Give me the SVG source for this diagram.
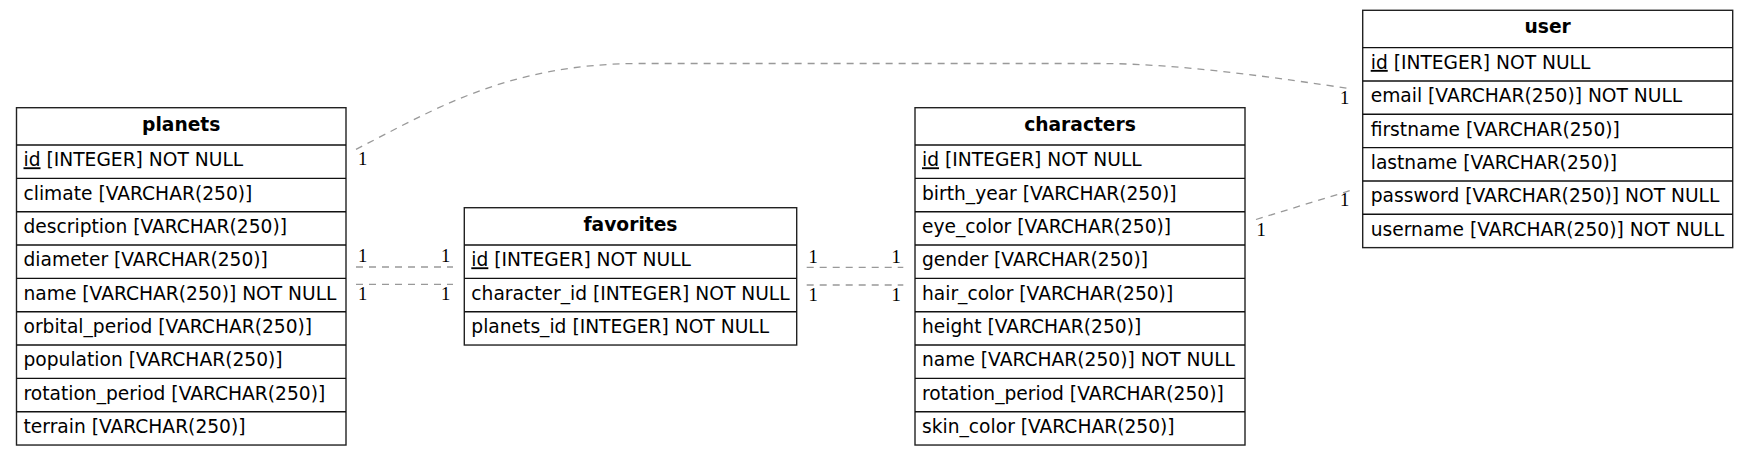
<svg xmlns="http://www.w3.org/2000/svg" width="1748" height="455" viewBox="0 0 1748 455">
<style>
.box{fill:#fff;stroke:#222;stroke-width:1.4}
.sep{stroke:#111;stroke-width:1.4}
.hd{font-family:"DejaVu Sans",sans-serif;font-size:18.67px;font-weight:bold;text-anchor:middle;fill:#000}
.fd{font-family:"DejaVu Sans",sans-serif;font-size:18.67px;fill:#000}
.pk{text-decoration:underline}
.edge{fill:none;stroke:#999;stroke-width:1.3;stroke-dasharray:7,6}
.card{font-family:"Liberation Serif","Times New Roman",serif;font-size:18.67px;fill:#000}
</style>
<rect width="1748" height="455" fill="#fff"/>
<g id="connectors">
<path class="edge" d="M356,149.3 C430,112 506,63.5 640,63.5 L1100,63.5 C1180,63.5 1282,78.5 1352,89"/>
<text class="card" x="358" y="165">1</text>
<text class="card" x="1340" y="104">1</text>
<path class="edge" d="M356,267 L453,267"/>
<text class="card" x="358" y="262">1</text>
<text class="card" x="441" y="262">1</text>
<path class="edge" d="M356,284.3 L453,284.3"/>
<text class="card" x="358" y="300">1</text>
<text class="card" x="441" y="300">1</text>
<path class="edge" d="M806.7,267.3 L903.3,267.3"/>
<text class="card" x="808.5" y="263">1</text>
<text class="card" x="891.5" y="263">1</text>
<path class="edge" d="M806.7,285 L903.3,285"/>
<text class="card" x="808.5" y="301">1</text>
<text class="card" x="891.5" y="301">1</text>
<path class="edge" d="M1256,219.5 L1352,190"/>
<text class="card" x="1256.5" y="236">1</text>
<text class="card" x="1340" y="206">1</text>
</g>
<g id="planets" transform="translate(16.5,107.7)">
<rect class="box" x="0" y="0" width="329.5" height="337.33"/>
<text class="hd" x="164.75" y="23">planets</text>
<line class="sep" x1="0" y1="37.33" x2="329.5" y2="37.33"/>
<line class="sep" x1="0" y1="70.67" x2="329.5" y2="70.67"/>
<line class="sep" x1="0" y1="104" x2="329.5" y2="104"/>
<line class="sep" x1="0" y1="137.33" x2="329.5" y2="137.33"/>
<line class="sep" x1="0" y1="170.67" x2="329.5" y2="170.67"/>
<line class="sep" x1="0" y1="204" x2="329.5" y2="204"/>
<line class="sep" x1="0" y1="237.33" x2="329.5" y2="237.33"/>
<line class="sep" x1="0" y1="270.67" x2="329.5" y2="270.67"/>
<line class="sep" x1="0" y1="304" x2="329.5" y2="304"/>
<text class="fd" x="7" y="58.6"><tspan class="pk">id</tspan> [INTEGER] NOT NULL</text>
<text class="fd" x="7" y="92">climate [VARCHAR(250)]</text>
<text class="fd" x="7" y="125.3">description [VARCHAR(250)]</text>
<text class="fd" x="7" y="158.6">diameter [VARCHAR(250)]</text>
<text class="fd" x="7" y="192">name [VARCHAR(250)] NOT NULL</text>
<text class="fd" x="7" y="225.3">orbital_period [VARCHAR(250)]</text>
<text class="fd" x="7" y="258.6">population [VARCHAR(250)]</text>
<text class="fd" x="7" y="292">rotation_period [VARCHAR(250)]</text>
<text class="fd" x="7" y="325.3">terrain [VARCHAR(250)]</text>
</g>
<g id="favorites" transform="translate(464.3,207.7)">
<rect class="box" x="0" y="0" width="332.4" height="137.33"/>
<text class="hd" x="166.2" y="23">favorites</text>
<line class="sep" x1="0" y1="37.33" x2="332.4" y2="37.33"/>
<line class="sep" x1="0" y1="70.67" x2="332.4" y2="70.67"/>
<line class="sep" x1="0" y1="104" x2="332.4" y2="104"/>
<text class="fd" x="7" y="58.6"><tspan class="pk">id</tspan> [INTEGER] NOT NULL</text>
<text class="fd" x="7" y="92">character_id [INTEGER] NOT NULL</text>
<text class="fd" x="7" y="125.3">planets_id [INTEGER] NOT NULL</text>
</g>
<g id="characters" transform="translate(915,107.7)">
<rect class="box" x="0" y="0" width="330" height="337.33"/>
<text class="hd" x="165" y="23">characters</text>
<line class="sep" x1="0" y1="37.33" x2="330" y2="37.33"/>
<line class="sep" x1="0" y1="70.67" x2="330" y2="70.67"/>
<line class="sep" x1="0" y1="104" x2="330" y2="104"/>
<line class="sep" x1="0" y1="137.33" x2="330" y2="137.33"/>
<line class="sep" x1="0" y1="170.67" x2="330" y2="170.67"/>
<line class="sep" x1="0" y1="204" x2="330" y2="204"/>
<line class="sep" x1="0" y1="237.33" x2="330" y2="237.33"/>
<line class="sep" x1="0" y1="270.67" x2="330" y2="270.67"/>
<line class="sep" x1="0" y1="304" x2="330" y2="304"/>
<text class="fd" x="7" y="58.6"><tspan class="pk">id</tspan> [INTEGER] NOT NULL</text>
<text class="fd" x="7" y="92">birth_year [VARCHAR(250)]</text>
<text class="fd" x="7" y="125.3">eye_color [VARCHAR(250)]</text>
<text class="fd" x="7" y="158.6">gender [VARCHAR(250)]</text>
<text class="fd" x="7" y="192">hair_color [VARCHAR(250)]</text>
<text class="fd" x="7" y="225.3">height [VARCHAR(250)]</text>
<text class="fd" x="7" y="258.6">name [VARCHAR(250)] NOT NULL</text>
<text class="fd" x="7" y="292">rotation_period [VARCHAR(250)]</text>
<text class="fd" x="7" y="325.3">skin_color [VARCHAR(250)]</text>
</g>
<g id="user" transform="translate(1362.7,10.3)">
<rect class="box" x="0" y="0" width="370" height="237.33"/>
<text class="hd" x="185" y="23">user</text>
<line class="sep" x1="0" y1="37.33" x2="370" y2="37.33"/>
<line class="sep" x1="0" y1="70.67" x2="370" y2="70.67"/>
<line class="sep" x1="0" y1="104" x2="370" y2="104"/>
<line class="sep" x1="0" y1="137.33" x2="370" y2="137.33"/>
<line class="sep" x1="0" y1="170.67" x2="370" y2="170.67"/>
<line class="sep" x1="0" y1="204" x2="370" y2="204"/>
<text class="fd" x="8" y="58.6"><tspan class="pk">id</tspan> [INTEGER] NOT NULL</text>
<text class="fd" x="8" y="92">email [VARCHAR(250)] NOT NULL</text>
<text class="fd" x="8" y="125.3">firstname [VARCHAR(250)]</text>
<text class="fd" x="8" y="158.6">lastname [VARCHAR(250)]</text>
<text class="fd" x="8" y="192">password [VARCHAR(250)] NOT NULL</text>
<text class="fd" x="8" y="225.3">username [VARCHAR(250)] NOT NULL</text>
</g>
</svg>
